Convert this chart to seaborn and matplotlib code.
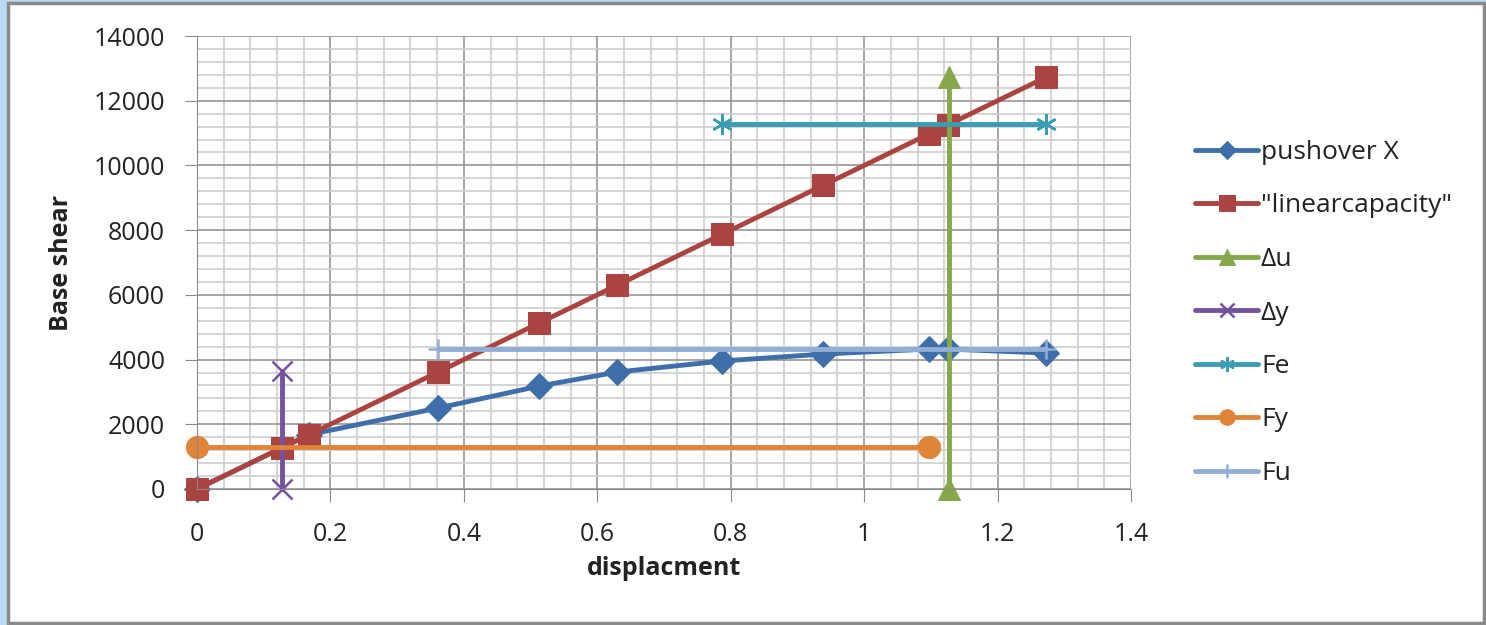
import matplotlib
matplotlib.use("Agg")
import matplotlib.pyplot as plt
from matplotlib.patches import Rectangle
from matplotlib.ticker import MultipleLocator, FuncFormatter
import seaborn as sns

# Pushover curve and linear capacity (displacement vs base shear)
disp = [0, 0.127, 0.168, 0.361, 0.513, 0.630, 0.787, 0.938, 1.097, 1.126, 1.273]
linear_capacity = [0, 1270, 1680, 3610, 5130, 6300, 7870, 9380, 10970, 11260, 12730]

pushover_x = [0, 0.168, 0.361, 0.513, 0.630, 0.787, 0.938, 1.097, 1.126, 1.273]
pushover_v = [0, 1680, 2500, 3180, 3615, 3955, 4170, 4325, 4325, 4200]

# Bilinear idealisation markers
du_x = [1.127, 1.127]
du_y = [0, 12730]
dy_x = [0.127, 0.127]
dy_y = [0, 3650]
fe_x = [0.787, 1.273]
fe_y = [11280, 11280]
fy_x = [0, 1.097]
fy_y = [1290, 1290]
fu_x = [0.361, 1.273]
fu_y = [4325, 4325]

labels = ["pushover X", '"linearcapacity"', "\u0394u", "\u0394y", "Fe", "Fy", "Fu"]

sns.set_style("white")
plt.rcParams["font.family"] = ["Open Sans", "DejaVu Sans"]

W, H = 1486, 625
fig = plt.figure(figsize=(W / 100, H / 100), dpi=100)
fig.patch.set_facecolor("#b9d9f5")
# white chart area with grey frame
fig.add_artist(Rectangle((8 / W, 2 / H), 1476 / W, 620 / H,
                         transform=fig.transFigure, facecolor="white",
                         edgecolor="#8a8a8a", linewidth=2.5, zorder=0))

ax = fig.add_axes([197 / W, 1 - 489 / H, (1131 - 197) / W, (489 - 36) / H])
ax.set_facecolor("white")

lw = 3.5
series = [
    (pushover_x, pushover_v, "#3f6faa", "D", 13, {}),
    (disp, linear_capacity, "#aa4441", "s", 16, {}),
    (du_x, du_y, "#86a84a", "^", 16, {}),
    (dy_x, dy_y, "#7552a0", "x", 15, {"markeredgewidth": 1.8}),
    (fe_x, fe_y, "#3a9db3", (6, 2, 0), 15, {"markeredgewidth": 1.8}),
    (fy_x, fy_y, "#e0843a", "o", 16, {}),
    (fu_x, fu_y, "#93aed6", "+", 14, {"markeredgewidth": 1.8}),
]

for (xs, ys, color, marker, ms, extra), lab in zip(series, labels):
    sns.lineplot(x=xs, y=ys, ax=ax, color=color, marker=marker, markersize=ms,
                 markeredgecolor=color, linewidth=lw, sort=False, estimator=None,
                 label=lab, clip_on=False, **extra)

ax.set_xlim(0, 1.4)
ax.set_ylim(0, 14000)
ax.xaxis.set_major_locator(MultipleLocator(0.2))
ax.xaxis.set_minor_locator(MultipleLocator(0.04))
ax.yaxis.set_major_locator(MultipleLocator(2000))
ax.yaxis.set_minor_locator(MultipleLocator(400))
ax.xaxis.set_major_formatter(FuncFormatter(lambda v, p: f"{v:g}"))
ax.yaxis.set_major_formatter(FuncFormatter(lambda v, p: f"{v:.0f}"))
ax.grid(which="major", color="#969696", linewidth=1.2)
ax.grid(which="minor", color="#cdcdcd", linewidth=1.2)
ax.set_axisbelow(True)
for s in ax.spines.values():
    s.set_visible(False)
for side in ("left", "bottom"):
    ax.spines[side].set_visible(True)
    ax.spines[side].set_color("#8a8a8a")
ax.tick_params(which="major", direction="out", length=9, color="#8a8a8a",
               labelsize=18, labelcolor="#222222", left=True, bottom=True)
ax.tick_params(axis="y", pad=14)
ax.tick_params(axis="x", pad=15)
ax.tick_params(which="minor", length=0)

ax.set_xlabel("displacment", fontsize=18, fontweight="bold", color="#222222", labelpad=6)
ax.set_ylabel("Base shear", fontsize=18, fontweight="bold", color="#222222", labelpad=14)

leg = ax.legend(loc="upper left", bbox_to_anchor=(1195 / W, 1 - 140 / H),
                bbox_transform=fig.transFigure, borderpad=0, borderaxespad=0,
                frameon=False, fontsize=19, handlelength=2.4, markerscale=0.7,
                labelspacing=1.08, handletextpad=0.1)
for t in leg.get_texts():
    t.set_color("#222222")

fig.savefig("out.png", dpi=100, facecolor=fig.get_facecolor())
